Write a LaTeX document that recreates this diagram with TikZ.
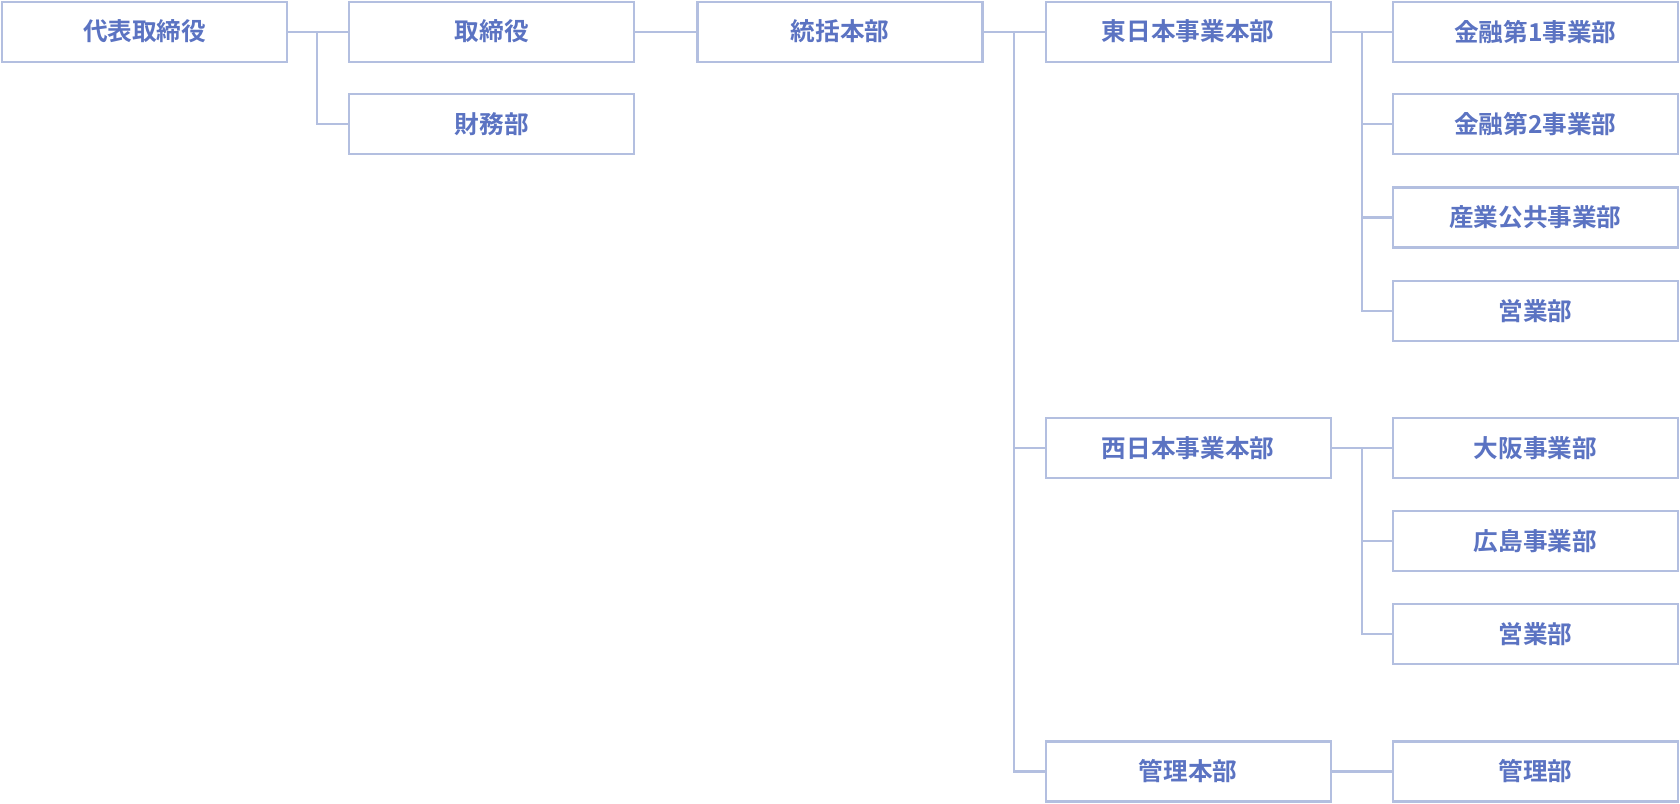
\documentclass[tikz,border=0pt]{standalone}
\usepackage{fontspec}
\newfontfamily\cjk{Noto Sans CJK JP Bold}
\definecolor{bd}{HTML}{B3BFE0}
\definecolor{tx}{HTML}{5B73C2}
\begin{document}
\begin{tikzpicture}[x=1pt,y=-1pt,
 box/.style={draw=bd,line width=2pt,minimum width=266pt,minimum height=56pt,inner sep=0pt,text=tx,font=\cjk\fontsize{23}{26}\selectfont},
 ln/.style={draw=bd,line width=2pt}]
\useasboundingbox (0,0) rectangle (1568,750);
\node[box] (a) at (135,29.5) {代表取締役};
\node[box] (b) at (459,29.5) {取締役};
\node[box] (c) at (459,116) {財務部};
\node[box] (d) at (784,29.5) {統括本部};
\node[box] (e) at (1109,29.5) {東日本事業本部};
\node[box] (f) at (1109,418) {西日本事業本部};
\node[box] (g) at (1109,720) {管理本部};
\node[box] (e1) at (1433,29.5) {金融第1事業部};
\node[box] (e2) at (1433,116) {金融第2事業部};
\node[box] (e3) at (1433,203) {産業公共事業部};
\node[box] (e4) at (1433,290) {営業部};
\node[box] (f1) at (1433,418) {大阪事業部};
\node[box] (f2) at (1433,505) {広島事業部};
\node[box] (f3) at (1433,592) {営業部};
\node[box] (g1) at (1433,720) {管理部};
\draw[ln] (a) -- (b);
\draw[ln] (296,29.5) |- (c.west);
\draw[ln] (b) -- (d);
\draw[ln] (d) -- (e);
\draw[ln] (946,29.5) |- (g.west);
\draw[ln] (946,418) -- (f.west);
\draw[ln] (e) -- (e1);
\draw[ln] (1271,29.5) |- (e4.west);
\draw[ln] (1271,116) -- (e2.west);
\draw[ln] (1271,203) -- (e3.west);
\draw[ln] (f) -- (f1);
\draw[ln] (1271,418) |- (f3.west);
\draw[ln] (1271,505) -- (f2.west);
\draw[ln] (g) -- (g1);
\end{tikzpicture}
\end{document}
